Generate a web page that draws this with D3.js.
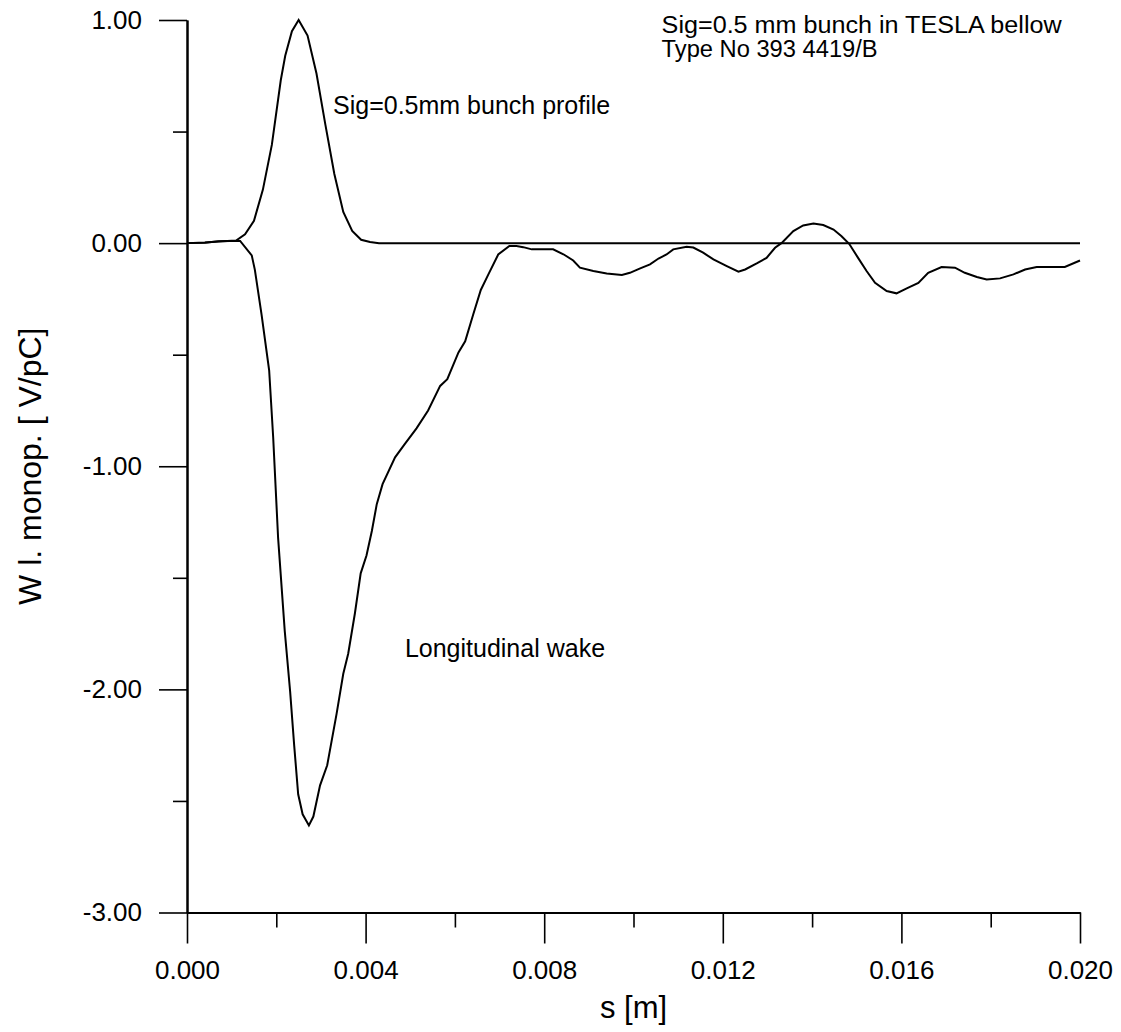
<!DOCTYPE html>
<html>
<head>
<meta charset="utf-8">
<script src="https://cdn.jsdelivr.net/npm/d3@7"></script>
<style>
  html, body { margin: 0; padding: 0; background: #fff; }
  svg { display: block; }
  text { font-family: "Liberation Sans", Arial, Helvetica, sans-serif; fill: #000; }
</style>
</head>
<body>
<svg id="chart" width="1121" height="1032"></svg>
<script>
// ---- Data (s in metres, W in V/pC) ----
const profilePoints = [
  [0, 0], [0.0004, 0.003], [0.0008, 0.008], [0.0011, 0.012], [0.0013, 0.04],
  [0.0015, 0.10], [0.0017, 0.24], [0.0019, 0.44], [0.0021, 0.73], [0.0022, 0.84],
  [0.00235, 0.95], [0.0025, 1.0], [0.0027, 0.93], [0.0029, 0.76], [0.0031, 0.53],
  [0.0033, 0.31], [0.0035, 0.14], [0.0037, 0.055], [0.0039, 0.015], [0.0041, 0.005],
  [0.0043, 0], [0.020, 0]
];

const wakePoints = [
  [0, 0], [0.0004, 0.002], [0.0007, 0.008], [0.00096, 0.010], [0.00119, 0.010],
  [0.00145, -0.055], [0.00152, -0.12], [0.00167, -0.32], [0.00184, -0.57], [0.00193, -0.87],
  [0.00204, -1.32], [0.00219, -1.74], [0.00231, -2.01], [0.0024, -2.25], [0.00249, -2.47],
  [0.00259, -2.56], [0.00273, -2.61], [0.00283, -2.57], [0.00298, -2.43], [0.00314, -2.34],
  [0.00335, -2.11], [0.0035, -1.93], [0.00361, -1.84], [0.00376, -1.66], [0.00389, -1.48],
  [0.00402, -1.40], [0.00414, -1.29], [0.00425, -1.17], [0.00438, -1.08], [0.00466, -0.96],
  [0.00488, -0.90], [0.00514, -0.83], [0.0054, -0.75], [0.00567, -0.64], [0.00583, -0.61],
  [0.00608, -0.49], [0.00623, -0.44], [0.00641, -0.32], [0.00658, -0.21], [0.00675, -0.14],
  [0.00697, -0.051], [0.00722, -0.013], [0.00738, -0.013], [0.00753, -0.018], [0.00772, -0.028],
  [0.0082, -0.028], [0.00843, -0.05], [0.00865, -0.078], [0.0088, -0.11], [0.0091, -0.125],
  [0.0094, -0.136], [0.00974, -0.143], [0.00992, -0.133], [0.01015, -0.113], [0.01037, -0.095],
  [0.01056, -0.069], [0.01074, -0.051], [0.01089, -0.028], [0.01119, -0.016], [0.01134, -0.02],
  [0.01156, -0.043], [0.01179, -0.073], [0.01209, -0.103], [0.01235, -0.128], [0.0125, -0.118],
  [0.01276, -0.091], [0.01298, -0.066], [0.01317, -0.021], [0.01332, 0.001], [0.01358, 0.054],
  [0.0138, 0.079], [0.01403, 0.088], [0.01425, 0.081], [0.01448, 0.061], [0.01466, 0.031],
  [0.01483, -0.003], [0.01503, -0.066], [0.01522, -0.125], [0.01541, -0.178], [0.01567, -0.215],
  [0.01589, -0.225], [0.01612, -0.203], [0.01638, -0.178], [0.0166, -0.133], [0.0169, -0.107],
  [0.0172, -0.11], [0.01742, -0.133], [0.01769, -0.152], [0.01791, -0.163], [0.01821, -0.158],
  [0.01851, -0.140], [0.01877, -0.118], [0.01903, -0.107], [0.01966, -0.107], [0.020, -0.078]
];

const xMajorTicks = [0, 0.004, 0.008, 0.012, 0.016, 0.020];
const xMinorTicks = [0.002, 0.006, 0.010, 0.014, 0.018];
const yMajorTicks = [1, 0, -1, -2, -3];
const yMinorTicks = [0.5, -0.5, -1.5, -2.5];

const xTitle = "s [m]";
const yTitle = "W l. monop. [ V/pC]";
const annotations = [
  { text: "Sig=0.5 mm bunch in TESLA bellow", s: 0.01063, w: 0.940, size: 23, len: 400 },
  { text: "Type No 393 4419/B", s: 0.01063, w: 0.832, size: 23, len: 216 },
  { text: "Sig=0.5mm bunch profile", s: 0.00327, w: 0.58, size: 25, len: null },
  { text: "Longitudinal wake", s: 0.00488, w: -1.855, size: 25, len: null }
];

// ---- Chart ----
const svg = d3.select("#chart");
const x = d3.scaleLinear().domain([0, 0.020]).range([187, 1080]);
const y = d3.scaleLinear().domain([-3, 1]).range([912.5, 20]);

const fontTick = "26px";
const fmtX = v => d3.format(".3f")(v).replace("\u2212", "-");
const fmtY = v => d3.format(".2f")(v).replace("\u2212", "-");

// x axis
const gx = svg.append("g").attr("transform", `translate(0,${y(-3)})`);
gx.call(d3.axisBottom(x).tickValues(xMajorTicks).tickSize(31).tickSizeOuter(0)
  .tickPadding(17).tickFormat(fmtX));
gx.append("g").call(d3.axisBottom(x).tickValues(xMinorTicks).tickSize(15).tickSizeOuter(0).tickFormat(""));

// y axis
const gy = svg.append("g").attr("transform", `translate(${x(0)},0)`);
gy.call(d3.axisLeft(y).tickValues(yMajorTicks).tickSize(28).tickSizeOuter(0)
  .tickPadding(17).tickFormat(fmtY));
gy.append("g").call(d3.axisLeft(y).tickValues(yMinorTicks).tickSize(14).tickSizeOuter(0).tickFormat(""));

svg.selectAll(".domain").attr("stroke", "#000").attr("stroke-width", 2);
svg.selectAll(".tick line").attr("stroke", "#000").attr("stroke-width", 1.6);
svg.selectAll(".tick text").style("font-size", fontTick)
  .style("font-family", '"Liberation Sans", Arial, sans-serif').attr("fill", "#000");

// titles
svg.append("text").attr("x", (x(0) + x(0.02)) / 2).attr("y", 1018)
  .attr("text-anchor", "middle").style("font-size", "31px").text(xTitle);
svg.append("text").attr("transform", `translate(41,${(y(1) + y(-3)) / 2}) rotate(-90)`)
  .attr("text-anchor", "middle").style("font-size", "32px").text(yTitle);

// curves
const line = d3.line().x(d => x(d[0])).y(d => y(d[1]));
svg.append("path").datum(profilePoints).attr("d", line)
  .attr("fill", "none").attr("stroke", "#000").attr("stroke-width", 2);
svg.append("path").datum(wakePoints).attr("d", line)
  .attr("fill", "none").attr("stroke", "#000").attr("stroke-width", 2);

// annotations
const annoSel = svg.selectAll(".anno").data(annotations).enter().append("text")
  .attr("class", "anno")
  .attr("x", d => x(d.s)).attr("y", d => y(d.w))
  .style("font-size", d => d.size + "px").text(d => d.text);
annoSel.filter(d => d.len).attr("textLength", d => d.len).attr("lengthAdjust", "spacingAndGlyphs");
</script>
</body>
</html>
